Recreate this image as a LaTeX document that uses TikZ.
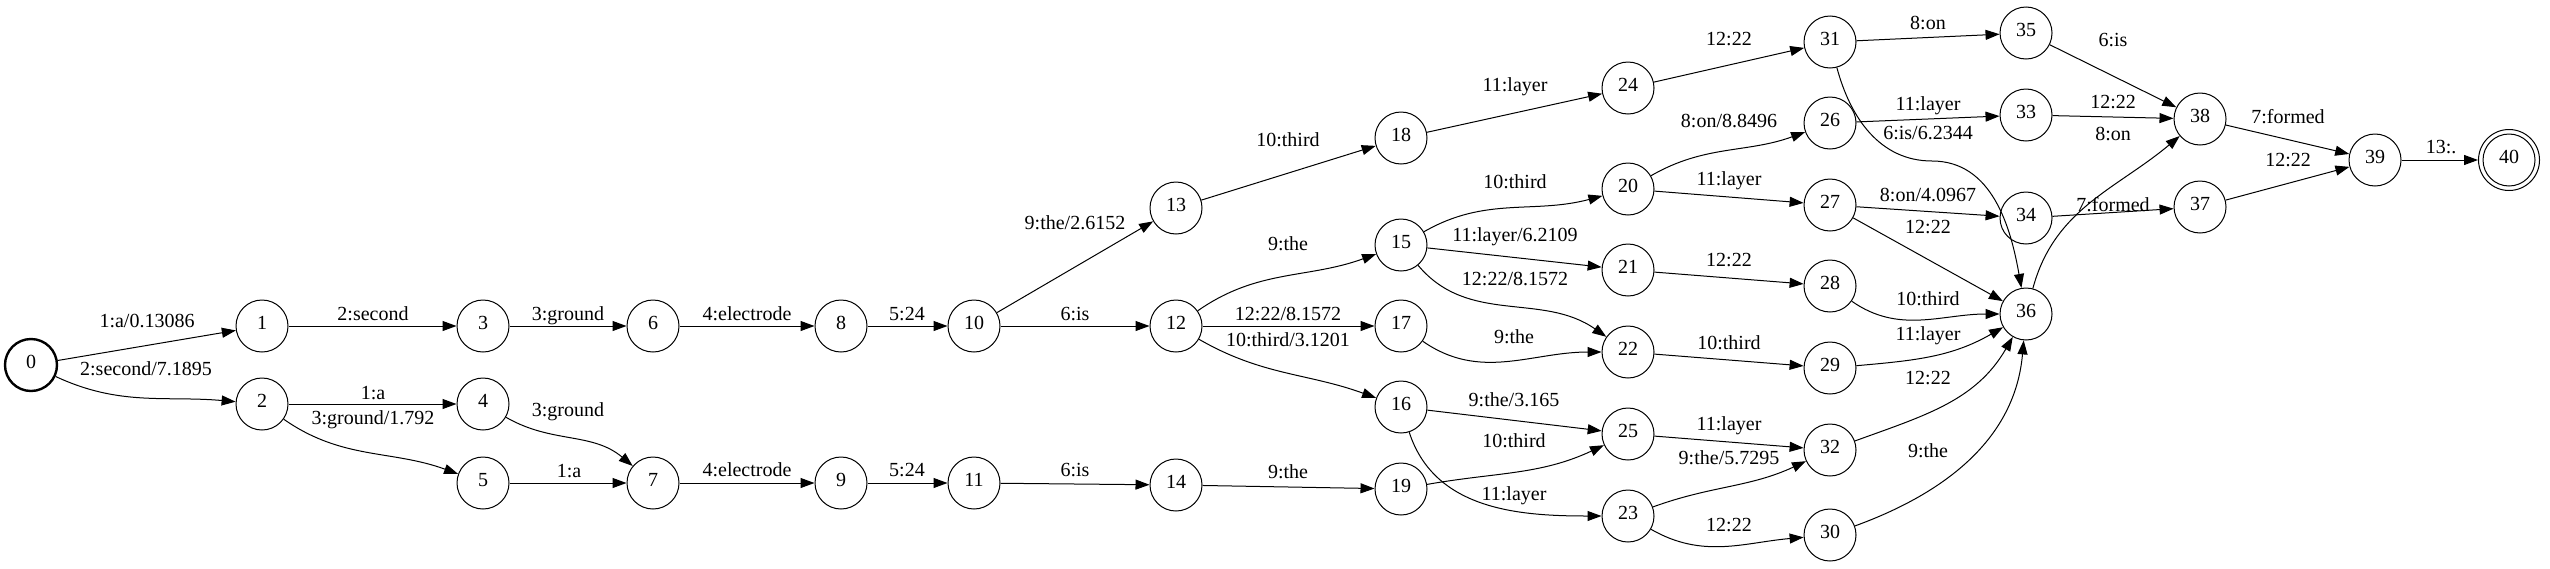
\documentclass[tikz,border=0pt]{standalone}
\usepackage{fontspec}
\setmainfont{Liberation Serif}
\usetikzlibrary{arrows.meta}
\begin{document}
\begin{tikzpicture}[x=1pt,y=1pt,
  st/.style={circle,draw,line width=1pt,minimum size=52pt,inner sep=0pt,
    font=\fontsize{20}{24}\selectfont,text height=0.68em,text depth=0pt},
  e/.style={line width=1pt,-{Triangle[length=14pt,width=10pt]}},
  lb/.style={font=\fontsize{20}{24}\selectfont,inner sep=0pt,text height=0.68em,text depth=0pt}]
\useasboundingbox (0,0) rectangle (2550,-568);
% states
\node[st,line width=2.4pt] (n0) at (31,-365) {0};
\node[st] (n1) at (262,-326) {1};
\node[st] (n2) at (262,-404) {2};
\node[st] (n3) at (483,-326) {3};
\node[st] (n4) at (483,-404) {4};
\node[st] (n5) at (483,-483) {5};
\node[st] (n6) at (653,-326) {6};
\node[st] (n7) at (653,-483) {7};
\node[st] (n8) at (841,-326) {8};
\node[st] (n9) at (841,-483) {9};
\node[st] (n10) at (974,-326) {10};
\node[st] (n11) at (974,-483) {11};
\node[st] (n12) at (1176,-326) {12};
\node[st] (n13) at (1176,-208) {13};
\node[st] (n14) at (1176,-485) {14};
\node[st] (n15) at (1401,-245) {15};
\node[st] (n16) at (1401,-407) {16};
\node[st] (n17) at (1401,-326) {17};
\node[st] (n18) at (1401,-138) {18};
\node[st] (n19) at (1401,-489) {19};
\node[st] (n20) at (1628,-189) {20};
\node[st] (n21) at (1628,-270) {21};
\node[st] (n22) at (1628,-352) {22};
\node[st] (n23) at (1628,-516) {23};
\node[st] (n24) at (1628,-88) {24};
\node[st] (n25) at (1628,-434) {25};
\node[st] (n26) at (1830,-123) {26};
\node[st] (n27) at (1830,-205) {27};
\node[st] (n28) at (1830,-286) {28};
\node[st] (n29) at (1830,-368) {29};
\node[st] (n30) at (1830,-535) {30};
\node[st] (n31) at (1830,-42) {31};
\node[st] (n32) at (1830,-450) {32};
\node[st] (n33) at (2026,-115) {33};
\node[st] (n34) at (2026,-218) {34};
\node[st] (n35) at (2026,-33) {35};
\node[st] (n36) at (2026,-314) {36};
\node[st] (n37) at (2200,-207) {37};
\node[st] (n38) at (2200,-119) {38};
\node[st] (n39) at (2375,-160) {39};
\node[st,minimum size=61pt] (n40) at (2509,-160) {40};
\draw[line width=1pt] (n40.center) circle[radius=26pt];
\coordinate (c3136) at (1932,-161);
% arcs
\draw[e] (n0) -- (n1) node[lb] at (147,-324) {1:a/0.13086};
\draw[e] (n0) to[out=-25,in=175] (n2) node[lb] at (146,-372) {2:second/7.1895};
\draw[e] (n1) -- (n3) node[lb] at (373,-317) {2:second};
\draw[e] (n2) -- (n4) node[lb] at (373,-396) {1:a};
\draw[e] (n2) to[out=-35,in=160] (n5) node[lb] at (373,-421) {3:ground/1.792};
\draw[e] (n3) -- (n6) node[lb] at (568,-317) {3:ground};
\draw[e] (n4) to[out=-30,in=140] (n7) node[lb] at (568,-413) {3:ground};
\draw[e] (n5) -- (n7) node[lb] at (569,-474) {1:a};
\draw[e] (n6) -- (n8) node[lb] at (747,-317) {4:electrode};
\draw[e] (n7) -- (n9) node[lb] at (747,-473) {4:electrode};
\draw[e] (n8) -- (n10) node[lb] at (907,-317) {5:24};
\draw[e] (n9) -- (n11) node[lb] at (907,-473) {5:24};
\draw[e] (n10) -- (n12) node[lb] at (1075,-317) {6:is};
\draw[e] (n10) -- (n13) node[lb] at (1075,-226) {9:the/2.6152};
\draw[e] (n11) -- (n14) node[lb] at (1075,-473) {6:is};
\draw[e] (n12) to[out=35,in=200] (n15) node[lb] at (1288,-247) {9:the};
\draw[e] (n12) -- (n17) node[lb] at (1288,-317) {12:22/8.1572};
\draw[e] (n12) to[out=-30,in=160] (n16) node[lb] at (1288,-343) {10:third/3.1201};
\draw[e] (n13) -- (n18) node[lb] at (1288,-143) {10:third};
\draw[e] (n14) -- (n19) node[lb] at (1288,-475) {9:the};
\draw[e] (n15) to[out=30,in=195] (n20) node[lb] at (1515,-185) {10:third};
\draw[e] (n15) -- (n21) node[lb] at (1515,-238) {11:layer/6.2109};
\draw[e] (n15) to[out=-50,in=145] (n22) node[lb] at (1515,-282) {12:22/8.1572};
\draw[e] (n16) -- (n25) node[lb] at (1514,-403) {9:the/3.165};
\draw[e] (n16) to[out=-72,in=180] (n23) node[lb] at (1514,-497) {11:layer};
\draw[e] (n17) to[out=-35,in=180] (n22) node[lb] at (1514,-340) {9:the};
\draw[e] (n18) -- (n24) node[lb] at (1515,-88) {11:layer};
\draw[e] (n19) to[out=10,in=205] (n25) node[lb] at (1514,-444) {10:third};
\draw[e] (n20) to[out=30,in=200] (n26) node[lb] at (1729,-124) {8:on/8.8496};
\draw[e] (n20) -- (n27) node[lb] at (1729,-182) {11:layer};
\draw[e] (n21) -- (n28) node[lb] at (1729,-263) {12:22};
\draw[e] (n22) -- (n29) node[lb] at (1729,-346) {10:third};
\draw[e] (n23) to[out=20,in=205] (n32) node[lb] at (1729,-461) {9:the/5.7295};
\draw[e] (n23) to[out=-30,in=185] (n30) node[lb] at (1729,-528) {12:22};
\draw[e] (n24) -- (n31) node[lb] at (1729,-42) {12:22};
\draw[e] (n25) -- (n32) node[lb] at (1729,-427) {11:layer};
\draw[e] (n26) -- (n33) node[lb] at (1928,-107) {11:layer};
\draw[e] (n27) -- (n34) node[lb] at (1928,-198) {8:on/4.0967};
\draw[e] (n27) -- (n36) node[lb] at (1928,-230) {12:22};
\draw[e] (n28) to[out=-35,in=180] (n36) node[lb] at (1928,-302) {10:third};
\draw[e] (n29) to[out=5,in=210] (n36) node[lb] at (1928,-337) {11:layer};
\draw[e] (n30) to[out=20,in=265] (n36) node[lb] at (1928,-454) {9:the};
\draw[e] (n31) -- (n35) node[lb] at (1928,-26) {8:on};
\draw[e] (n31) to[out=-75,in=180] (c3136) to[out=0,in=100] (n36) node[lb] at (1928,-136) {6:is/6.2344};
\draw[e] (n32) to[out=20,in=240] (n36) node[lb] at (1928,-381) {12:22};
\draw[e] (n33) -- (n38) node[lb] at (2113,-105) {12:22};
\draw[e] (n34) -- (n37) node[lb] at (2113,-208) {7:formed};
\draw[e] (n35) -- (n38) node[lb] at (2113,-43) {6:is};
\draw[e] (n36) to[out=75,in=220] (n38) node[lb] at (2113,-137) {8:on};
\draw[e] (n37) -- (n39) node[lb] at (2288,-163) {12:22};
\draw[e] (n38) -- (n39) node[lb] at (2288,-120) {7:formed};
\draw[e] (n39) -- (n40) node[lb] at (2441,-150) {13:.};
\end{tikzpicture}
\end{document}
